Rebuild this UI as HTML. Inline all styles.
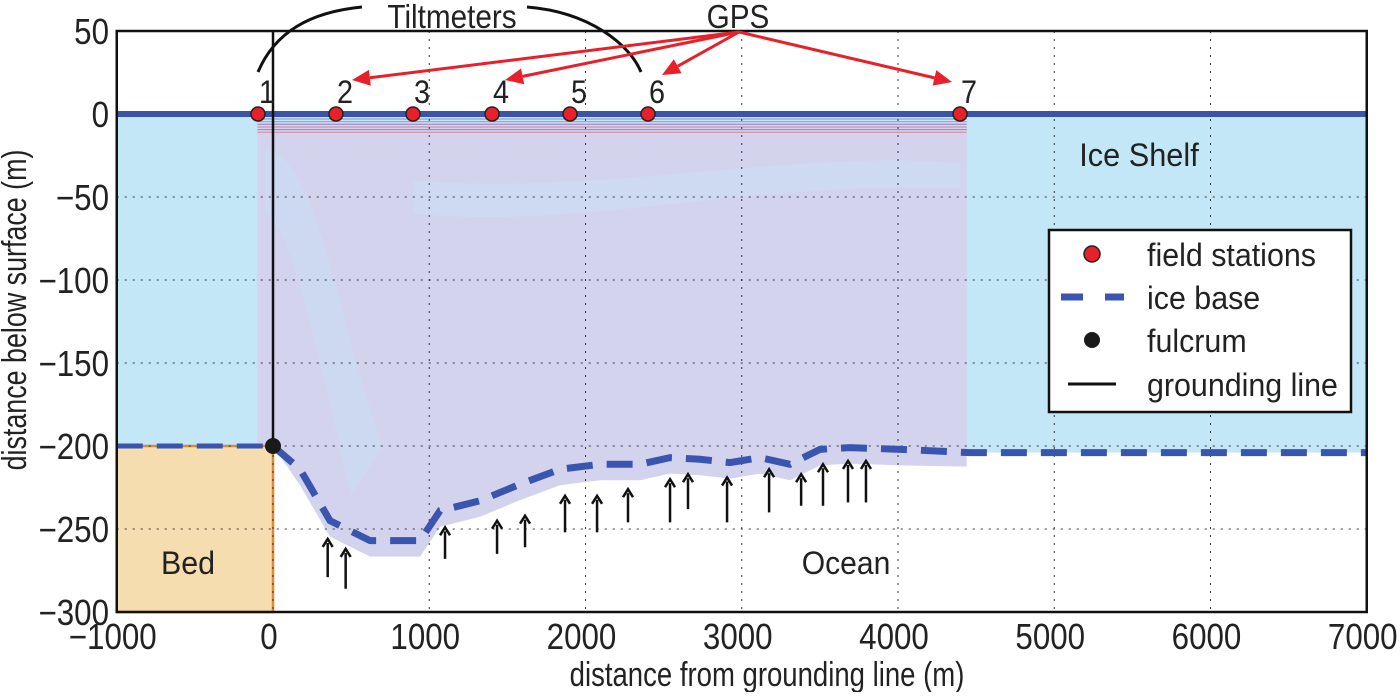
<!DOCTYPE html>
<html><head><meta charset="utf-8">
<style>
body{margin:0;background:#fff;}
svg text{font-family:"Liberation Sans",Arial,sans-serif;fill:#222;}
</style></head>
<body>
<svg id="chart" width="1400" height="692" viewBox="0 0 1400 692" xmlns="http://www.w3.org/2000/svg">
<g id="plot"></g>
</svg>
<script>
const xTicks = [-1000,0,1000,2000,3000,4000,5000,6000,7000];
const yTicks = [50,0,-50,-100,-150,-200,-250,-300];
const baseX = [0,173,365,621,941,1069,1325,1581,1837,2093,2349,2541,2733,2925,3117,3309,3501,3693,4013,4461,7000];
const baseY = [-200,-214,-245,-257,-257,-239,-233,-223,-214,-211,-211,-207,-208,-210,-207,-211,-202,-201,-202,-204,-204];
const stationX = [-96,403,896,1402,1901,2400,4397];
const stationLabels = ["1","2","3","4","5","6","7"];
const arrowX = [350,465,1101,1434,1613,1869,2074,2272,2541,2656,2906,3175,3380,3520,3680,3795];
const arrowTop = [-256,-262,-249,-245,-242,-230,-230,-226,-220,-217,-219,-214,-217,-211,-209,-209];
const arrowBottom = [-279,-286,-268,-265,-261,-252,-252,-246,-246,-238,-246,-240,-236,-236,-234,-234];

const X = v => 273 + v*0.15625;
const Y = v => 114 - v*1.66;
const NS="http://www.w3.org/2000/svg";
const g=document.getElementById('plot');
function el(tag,attrs,parent){const e=document.createElementNS(NS,tag);for(const k in attrs)e.setAttribute(k,attrs[k]);(parent||g).appendChild(e);return e;}
function txt(str,x,y,size,sx,anchor,parent,rot){
  const t=el('text',{x:0,y:0,'font-size':size,'text-anchor':anchor||'start',transform:`translate(${x},${y})`+(rot?` rotate(${rot})`:'')+` scale(${sx},1)`},parent);
  t.textContent=str;return t;
}

let r=el('rect',{x:X(-1000),y:Y(0),width:X(7000)-X(-1000),height:Y(-204)-Y(0),fill:'#c3e7f6'});


let pts=baseX.map((v,i)=>X(v)+','+Y(baseY[i])).join(' ');
let oc=el('polygon',{points:pts+' '+X(7000)+','+Y(-300)+' '+X(0)+','+Y(-300),fill:'#fff'});


let radBot=[];
for(let i=0;i<baseX.length;i++){ if(baseX[i]<=4440) radBot.push(X(baseX[i])+','+(Y(baseY[i])+(i==0?0:16))); }
radBot.push(X(4440)+','+(Y(-204)+14));
let rp=X(-100)+','+Y(-5)+' '+X(4440)+','+Y(-5)+' '+radBot.reverse().join(' ')+' '+X(-100)+','+Y(-200);
let rad=el('polygon',{points:rp,fill:'#d4d3ee'});


let p1=el('path',{d:`M${X(-50)},${Y(-20)} C ${X(300)},${Y(-30)} ${X(400)},${Y(-120)} ${X(700)},${Y(-200)} L ${X(500)},${Y(-230)} C ${X(300)},${Y(-150)} ${X(100)},${Y(-60)} ${X(-50)},${Y(-60)} Z`,fill:'#c2e4f4',opacity:0.4});


let p2=el('path',{d:`M${X(900)},${Y(-40)} C ${X(2000)},${Y(-50)} ${X(3500)},${Y(-20)} ${X(4400)},${Y(-30)} L ${X(4400)},${Y(-45)} C ${X(3000)},${Y(-40)} ${X(2000)},${Y(-70)} ${X(900)},${Y(-60)} Z`,fill:'#c6e5f4',opacity:0.4});


for(let k=0;k<6;k++){
  let s=el('line',{x1:X(-100),x2:X(4440),y1:Y(-3-k*1.6),y2:Y(-3-k*1.6),stroke:k%2?'#e06070':'#6070c0','stroke-width':1,opacity:0.7});
  
  
}
let bed=el('rect',{x:X(-1000),y:Y(-200),width:X(0)-X(-1000),height:Y(-300)-Y(-200),fill:'#f6ddb0',stroke:'#d98c35','stroke-width':2.5});


xTicks.forEach(v=>{let l=el('line',{x1:X(v),x2:X(v),y1:Y(50),y2:Y(-300),stroke:'#333','stroke-width':1,'stroke-dasharray':'2,6'});

});
yTicks.forEach(v=>{let l=el('line',{x1:X(-1000),x2:X(7000),y1:Y(v),y2:Y(v),stroke:'#333','stroke-width':1,'stroke-dasharray':'2,6'});

});
let sf=el('line',{x1:X(-1000),x2:X(7000),y1:Y(0),y2:Y(0),stroke:'#3a55a8','stroke-width':6});


let bl=el('polyline',{points:pts,fill:'none',stroke:'#3a55b0','stroke-width':7,'stroke-dasharray':'26,14'});


let bl2=el('line',{x1:X(-1000),x2:X(0),y1:Y(-200),y2:Y(-200),stroke:'#3a55b0','stroke-width':5,'stroke-dasharray':'26,14'});


arrowX.forEach((v,i)=>{
  let a=el('line',{x1:X(v),x2:X(v),y1:Y(arrowBottom[i]),y2:Y(arrowTop[i])+4,stroke:'#111','stroke-width':2.5});
  
  
  let h=el('polyline',{points:`${X(v)-5},${Y(arrowTop[i])+8} ${X(v)},${Y(arrowTop[i])} ${X(v)+5},${Y(arrowTop[i])+8}`,fill:'none',stroke:'#111','stroke-width':2.5});
  
  
});
let gl=el('line',{x1:X(0),x2:X(0),y1:Y(50),y2:Y(-200),stroke:'#111','stroke-width':2.5});


let fc=el('circle',{cx:X(0),cy:Y(-200),r:8,fill:'#1a1a1a'});


let bx=el('rect',{x:X(-1000),y:Y(50),width:X(7000)-X(-1000),height:Y(-300)-Y(50),fill:'none',stroke:'#111','stroke-width':2.5});


stationX.forEach((v,i)=>{
  let c=el('circle',{cx:X(v),cy:Y(0),r:7,fill:'#e8202a',stroke:'#222','stroke-width':1.5});
  
  
  let t=txt(stationLabels[i],X(v)+9,Y(0)-11,32,0.9,'middle');
  
  
});
xTicks.forEach(v=>{let t=txt((v<0?'\u2212':'')+Math.abs(v),X(v)-4,649,36,0.87,'middle');

});
yTicks.forEach(v=>{let t=txt((v<0?'\u2212':'')+Math.abs(v),109,Y(v)+13,36,0.87,'end');

});
let tt=txt('Tiltmeters',452,28,33,0.9,'middle');


let a1=el('path',{d:'M258,72 C275,32 310,12 362,7',fill:'none',stroke:'#111','stroke-width':3});


let a2=el('path',{d:'M527,7 C590,12 630,45 641,72',fill:'none',stroke:'#111','stroke-width':3});


let gp=txt('GPS',738,28,33,0.9,'middle');


[[352,80],[505,80],[662,75],[952,82]].forEach(p=>{
  const sx=739,sy=32;const dx=p[0]-sx,dy=p[1]-sy,L=Math.hypot(dx,dy),ux=dx/L,uy=dy/L;
  const bx2=p[0]-ux*18,by2=p[1]-uy*18;
  let l=el('line',{x1:sx,y1:sy,x2:bx2,y2:by2,stroke:'#e8202a','stroke-width':3});
  
  
  let h=el('polygon',{points:`${p[0]},${p[1]} ${bx2-uy*8},${by2+ux*8} ${bx2+uy*8},${by2-ux*8}`,fill:'#e8202a'});
  
  
});
[['Ice Shelf',1139,166,'ice-shelf-label',0.96],['Bed',188,574,'bed-label',0.95],['Ocean',846,574,'ocean-label',0.94]].forEach(a=>{
  let t=txt(a[0],a[1],a[2],32,a[4],'middle');
  
  
});
let xl=txt('distance from grounding line (m)',767,686,34,0.81,'middle');


let yl=txt('distance below surface (m)',26,310,34,0.79,'middle',null,-90);


const lg=el('g',{});


el('rect',{x:1049,y:230,width:302,height:182,fill:'#fff',stroke:'#111','stroke-width':2.5},lg);
el('circle',{cx:1092,cy:254,r:8,fill:'#e8202a',stroke:'#222','stroke-width':1.5},lg);
el('line',{x1:1061,x2:1124,y1:297,y2:297,stroke:'#3a55b0','stroke-width':7,'stroke-dasharray':'22,22'},lg);
el('circle',{cx:1092,cy:340,r:8,fill:'#1a1a1a'},lg);
el('line',{x1:1068,x2:1116,y1:384,y2:384,stroke:'#111','stroke-width':3},lg);
[['field stations',266],['ice base',309],['fulcrum',352],['grounding line',396]].forEach(a=>{
  let t=txt(a[0],1147,a[1],32,0.95,'start',lg);
  
  
});
</script>
</body></html>
